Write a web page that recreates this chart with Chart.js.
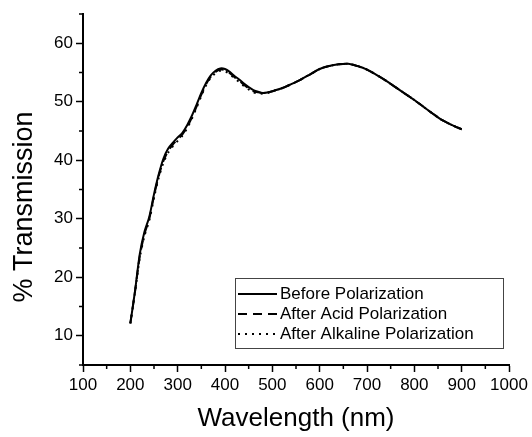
<!DOCTYPE html>
<html lang="en">
<head>
  <meta charset="UTF-8" />
  <title>% Transmission vs Wavelength</title>
  <style>
    html, body {
      margin: 0;
      padding: 0;
      background: #fff;
    }
    #wrap {
      width: 532px;
      height: 437px;
    }
  </style>
</head>
<body>
  <div id="wrap">
    <canvas id="specChart" width="532" height="437"></canvas>
  </div>

  <script src="https://cdn.jsdelivr.net/npm/chart.js"></script>
<script>
  // wavelength (nm)
  const wavelength = [
    200, 210, 220, 230, 240, 250, 260, 270, 280, 290,
    300, 310, 320, 330, 340, 350, 360, 370, 380, 390,
    400, 410, 420, 430, 440, 450, 460, 470, 480, 490,
    500, 520, 540, 560, 580, 600, 620, 640, 660, 680,
    700, 720, 740, 760, 780, 800, 820, 840, 860, 880, 900
  ];

  const beforePol = [
    12.1, 17.7, 24.0, 27.8, 30.3, 34.2, 37.6, 40.3, 42.0, 43.0,
    43.9, 44.7, 46.0, 47.6, 49.5, 51.5, 53.2, 54.5, 55.3, 55.7,
    55.6, 55.1, 54.4, 53.8, 53.1, 52.5, 52.0, 51.7, 51.5, 51.6,
    51.8, 52.3, 53.0, 53.8, 54.7, 55.6, 56.1, 56.4, 56.5, 56.1,
    55.5, 54.6, 53.6, 52.5, 51.4, 50.3, 49.1, 47.9, 46.8, 46.0, 45.3
  ];

  const acidPol = [
    12.1, 17.6, 23.6, 27.4, 30.0, 33.9, 37.3, 39.9, 41.6, 42.7,
    43.6, 44.4, 45.7, 47.3, 49.2, 51.2, 53.0, 54.3, 55.1, 55.5,
    55.4, 54.9, 54.2, 53.6, 52.9, 52.3, 51.8, 51.6, 51.5, 51.6,
    51.8, 52.3, 53.0, 53.8, 54.7, 55.6, 56.1, 56.4, 56.5, 56.1,
    55.5, 54.6, 53.6, 52.5, 51.4, 50.3, 49.1, 47.9, 46.8, 46.0, 45.3
  ];

  const alkalinePol = [
    12.1, 17.5, 23.3, 27.1, 29.7, 33.6, 37.0, 39.6, 41.3, 42.4,
    43.3, 44.2, 45.5, 47.1, 49.0, 51.0, 52.8, 54.1, 54.9, 55.3,
    55.2, 54.7, 54.0, 53.4, 52.7, 52.1, 51.6, 51.4, 51.4, 51.5,
    51.8, 52.3, 53.0, 53.8, 54.7, 55.6, 56.1, 56.4, 56.5, 56.1,
    55.5, 54.6, 53.6, 52.5, 51.4, 50.3, 49.1, 47.9, 46.8, 46.0, 45.3
  ];

  const seriesNames = ['Before Polarization', 'After Acid Polarization', 'After Alkaline Polarization'];
  const seriesDash = [[], [9, 6], [2, 5]];

  const FONT = '"Liberation Sans", Arial, sans-serif';

  function toPoints(ys) {
    return wavelength.map((x, i) => ({ x: x, y: ys[i] }));
  }

  // minor ticks, axis titles and the boxed legend
  const extras = {
    id: 'extras',
    afterDraw(chart) {
      const ctx = chart.ctx;
      const xs = chart.scales.x;
      const ys = chart.scales.y;
      const area = chart.chartArea;

      ctx.save();
      ctx.strokeStyle = '#000';
      ctx.lineWidth = 1.5;
      ctx.beginPath();
      for (let v = 150; v < 1000; v += 100) {
        const px = xs.getPixelForValue(v);
        ctx.moveTo(px, area.bottom);
        ctx.lineTo(px, area.bottom + 4);
      }
      for (let v = 5; v <= 65; v += 10) {
        const py = ys.getPixelForValue(v);
        ctx.moveTo(area.left, py);
        ctx.lineTo(area.left - 4, py);
      }
      ctx.stroke();

      // axis titles
      ctx.fillStyle = '#000';
      ctx.textAlign = 'center';
      ctx.textBaseline = 'middle';
      ctx.font = '26px ' + FONT;
      ctx.fillText('Wavelength (nm)', (area.left + area.right) / 2, 419);

      ctx.save();
      ctx.translate(25, 207);
      ctx.rotate(-Math.PI / 2);
      ctx.font = '27px ' + FONT;
      ctx.fillText('% Transmission', 0, 0);
      ctx.restore();

      // legend
      const bx = 235, by = 278, bw = 268, bh = 70;
      ctx.lineWidth = 1;
      ctx.strokeStyle = '#444';
      ctx.strokeRect(bx + 0.5, by + 0.5, bw, bh);

      ctx.font = '17px ' + FONT;
      ctx.textAlign = 'left';
      ctx.strokeStyle = '#000';
      ctx.lineWidth = 2;
      seriesNames.forEach((name, i) => {
        const ly = by + 16 + i * 20;
        ctx.setLineDash(seriesDash[i]);
        ctx.beginPath();
        ctx.moveTo(bx + 3, ly);
        ctx.lineTo(bx + 42, ly);
        ctx.stroke();
        ctx.setLineDash([]);
        ctx.fillText(name, bx + 45, ly);
      });
      ctx.restore();
    }
  };

  const ctx = document.getElementById('specChart').getContext('2d');
  const chart = new Chart(ctx, {
    type: 'line',
    data: {
      datasets: [
        {
          label: seriesNames[0],
          data: toPoints(beforePol),
          borderColor: '#000',
          borderWidth: 2,
          pointRadius: 0,
          tension: 0.3
        },
        {
          label: seriesNames[1],
          data: toPoints(acidPol),
          borderColor: '#000',
          borderWidth: 2,
          borderDash: seriesDash[1],
          pointRadius: 0,
          tension: 0.3
        },
        {
          label: seriesNames[2],
          data: toPoints(alkalinePol),
          borderColor: '#000',
          borderWidth: 2,
          borderDash: seriesDash[2],
          pointRadius: 0,
          tension: 0.3
        }
      ]
    },
    options: {
      responsive: false,
      animation: false,
      layout: {
        padding: { top: 14, right: 23, left: 0, bottom: 0 }
      },
      plugins: {
        legend: { display: false },
        tooltip: { enabled: false }
      },
      scales: {
        x: {
          type: 'linear',
          min: 100,
          max: 1000,
          afterFit: (s) => { s.height = 72; },
          ticks: {
            stepSize: 100,
            autoSkip: false,
            maxRotation: 0,
            padding: 3,
            color: '#000',
            font: { family: FONT, size: 17 },
            callback: (v) => String(v)
          },
          grid: {
            drawOnChartArea: false,
            tickLength: 7,
            tickColor: '#000',
            tickWidth: 1.5
          },
          border: { color: '#000', width: 2 }
        },
        y: {
          min: 5,
          max: 65,
          afterFit: (s) => { s.width = 83; },
          afterBuildTicks: (s) => {
            s.ticks = [10, 20, 30, 40, 50, 60].map(v => ({ value: v }));
          },
          ticks: {
            autoSkip: false,
            padding: 3,
            color: '#000',
            font: { family: FONT, size: 17 }
          },
          grid: {
            drawOnChartArea: false,
            tickLength: 7,
            tickColor: '#000',
            tickWidth: 1.5
          },
          border: { color: '#000', width: 2 }
        }
      }
    },
    plugins: [extras]
  });
</script>
</body>
</html>
